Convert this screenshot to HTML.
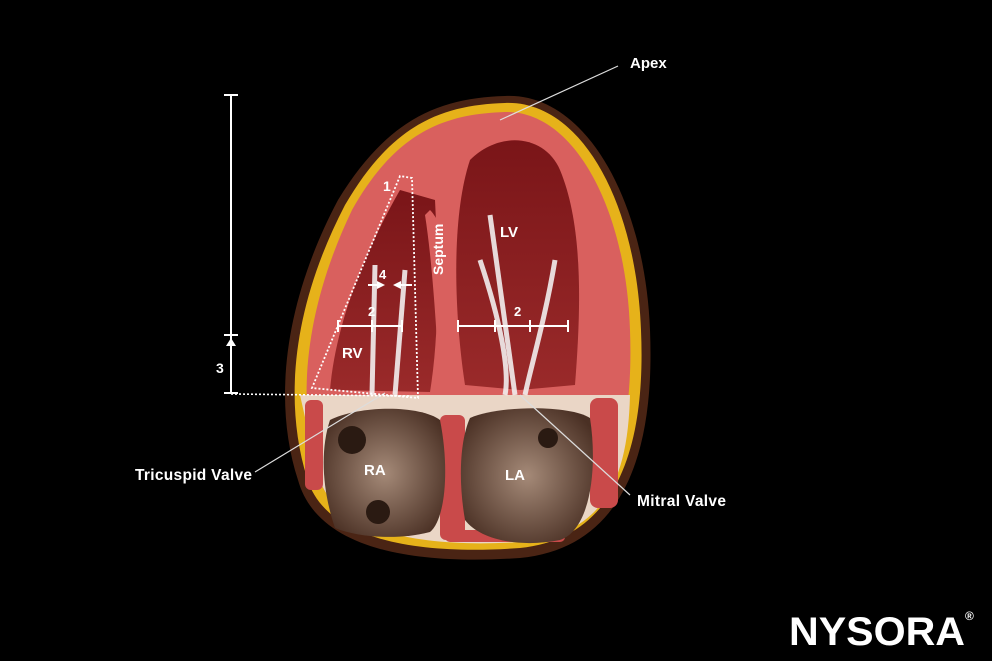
<!DOCTYPE html>
<html><head><meta charset="utf-8"><style>
html,body{margin:0;padding:0;background:#000;}
svg{display:block}
text{font-family:"Liberation Sans",sans-serif;font-weight:bold;fill:#fff}
</style></head><body>
<svg width="992" height="661" viewBox="0 0 992 661">
<rect width="992" height="661" fill="#000"/>
<defs>
<radialGradient id="ra" cx="0.5" cy="0.5" r="0.6"><stop offset="0" stop-color="#a58a78"/><stop offset="1" stop-color="#4a3024"/></radialGradient>
<linearGradient id="cav" x1="0" y1="0" x2="0" y2="1"><stop offset="0" stop-color="#7a1518"/><stop offset="1" stop-color="#9a2a2a"/></linearGradient>
</defs>
<path d="M505,96 C585,92 645,200 650,330 C655,450 625,548 520,558 C420,565 318,552 298,480 C272,400 285,300 338,200 C388,118 440,98 505,96 Z" fill="#4a2414"/>
<path d="M505,103 C580,100 636,200 641,330 C646,445 618,538 520,548 C425,555 326,543 307,478 C283,400 293,305 345,205 C392,124 442,105 505,103 Z" fill="#e6b21a"/>
<path d="M505,112 C572,110 626,205 630,330 C634,440 610,530 520,540 C428,546 335,535 318,475 C296,400 305,308 352,210 C396,132 444,114 505,112 Z" fill="#d9605e"/>
<path d="M300,395 L630,395 C628,470 610,535 520,542 C428,548 335,535 318,475 Z" fill="#ead6c6"/>
<rect x="305" y="400" width="18" height="90" rx="6" fill="#c94a4a"/>
<rect x="440" y="415" width="25" height="125" rx="6" fill="#c94a4a"/>
<rect x="590" y="398" width="28" height="110" rx="8" fill="#c94a4a"/>
<rect x="445" y="530" width="120" height="12" rx="5" fill="#c94a4a"/>
<path d="M330,420 C360,405 420,405 440,420 C450,470 445,520 430,532 C400,540 360,538 335,528 C322,490 320,450 330,420 Z" fill="url(#ra)"/>
<path d="M470,418 C500,405 570,405 590,418 C598,470 590,530 560,540 C520,548 480,540 465,520 C458,480 460,440 470,418 Z" fill="url(#ra)"/>
<circle cx="352" cy="440" r="14" fill="#2a1a12"/><circle cx="378" cy="512" r="12" fill="#2a1a12"/><circle cx="548" cy="438" r="10" fill="#2a1a12"/>
<path d="M470,160 C500,130 545,135 560,170 C585,230 580,320 575,385 L520,390 L465,385 C455,320 450,220 470,160 Z" fill="url(#cav)"/>
<path d="M400,190 L435,200 C438,260 440,330 430,392 L330,390 C335,330 360,260 400,190 Z" fill="url(#cav)"/>
<path d="M430,210 C450,230 458,300 458,392 L440,392 C436,320 432,260 425,215 Z" fill="#d9605e"/>
<g stroke="#f2eeee" stroke-width="5" fill="none" opacity="0.9">
<path d="M375,265 L372,395"/><path d="M405,270 L395,395"/><path d="M480,260 C500,320 510,370 505,395"/><path d="M555,260 C545,320 530,370 525,395"/><path d="M490,215 L515,395"/>
</g>
<line x1="618" y1="66" x2="500" y2="120" stroke="#ddd" stroke-width="1.2"/>
<text x="630" y="68" font-size="15">Apex</text>
<line x1="255" y1="472" x2="385" y2="393" stroke="#ddd" stroke-width="1.2"/>
<text x="135" y="480" font-size="15.5" textLength="117">Tricuspid Valve</text>
<line x1="630" y1="495" x2="520" y2="395" stroke="#ddd" stroke-width="1.2"/>
<text x="637" y="506" font-size="15.5" textLength="89">Mitral Valve</text>
<g stroke="#fff" stroke-width="2">
<line x1="231" y1="95" x2="231" y2="393"/><line x1="224" y1="95" x2="238" y2="95"/><line x1="224" y1="335" x2="238" y2="335"/><line x1="224" y1="393" x2="238" y2="393"/>
</g>
<polygon points="231,338 226,346 236,346" fill="#fff"/>
<text x="216" y="373" font-size="14">3</text>
<line x1="231" y1="394" x2="410" y2="396" stroke="#fff" stroke-width="1.6" stroke-dasharray="2,2"/>
<polygon points="400,176 312,388 418,398 412,178" fill="none" stroke="#fff" stroke-width="1.8" stroke-dasharray="2,2"/>
<g stroke="#fff" stroke-width="2">
<line x1="338" y1="326" x2="402" y2="326"/><line x1="338" y1="320" x2="338" y2="332"/><line x1="372" y1="320" x2="372" y2="332"/><line x1="402" y1="320" x2="402" y2="332"/>
<line x1="458" y1="326" x2="568" y2="326"/><line x1="458" y1="320" x2="458" y2="332"/><line x1="495" y1="320" x2="495" y2="332"/><line x1="530" y1="320" x2="530" y2="332"/><line x1="568" y1="320" x2="568" y2="332"/>
<line x1="368" y1="285" x2="380" y2="285"/><line x1="398" y1="285" x2="412" y2="285"/>
</g>
<polygon points="385,285 377,281 377,289" fill="#fff"/><polygon points="393,285 401,281 401,289" fill="#fff"/>
<text x="383" y="191" font-size="14">1</text>
<text x="379" y="279" font-size="13">4</text>
<text x="368" y="316" font-size="13">2</text>
<text x="514" y="316" font-size="13">2</text>
<text x="342" y="358" font-size="15">RV</text>
<text x="500" y="237" font-size="15">LV</text>
<text x="364" y="475" font-size="15">RA</text>
<text x="505" y="480" font-size="15">LA</text>
<text transform="translate(443,275) rotate(-90)" font-size="14">Septum</text>
<text x="789" y="645" font-size="40" textLength="176" lengthAdjust="spacingAndGlyphs">NYSORA</text>
<text x="965" y="620" font-size="12">®</text>
</svg>
</body></html>
